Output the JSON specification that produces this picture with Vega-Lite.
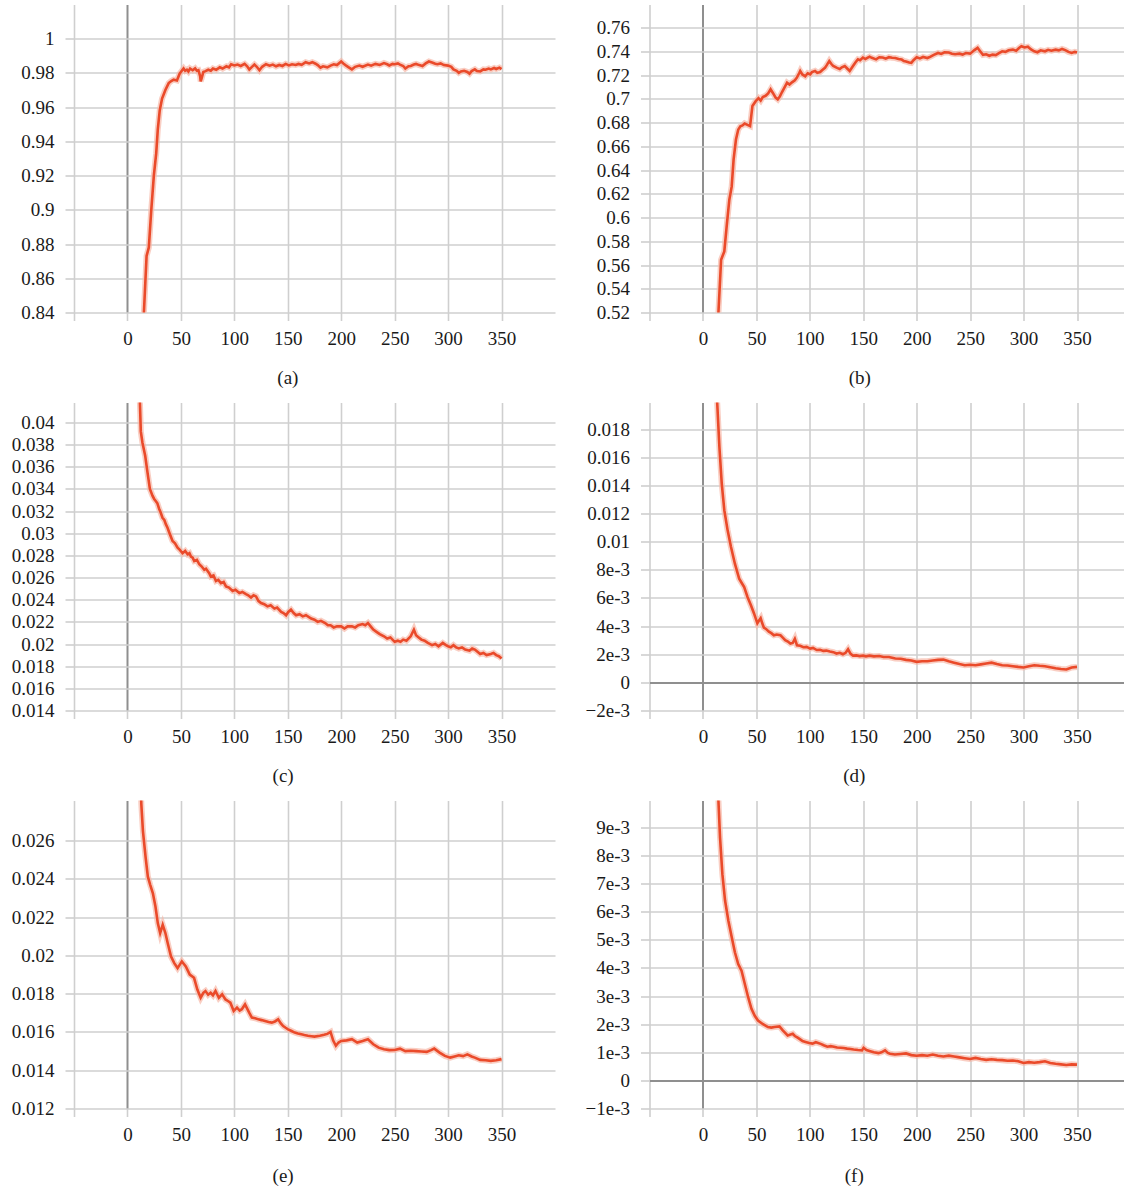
{
  "$schema": "https://vega.github.io/schema/vega-lite/v6.json",
  "autosize": {"type": "pad"},
  "padding": {"left": 11, "top": 4.5, "right": 0, "bottom": 0},
  "background": "white",
  "config": {
    "view": {"stroke": null},
    "font": "Liberation Serif",
    "axis": {"domain": false, "labelFont": "Liberation Serif", "labelFontSize": 19, "labelColor": "#1a1a1a", "labelOverlap": false, "labelFlush": false, "tickColor": "#cfcfcf", "tickWidth": 1.6, "gridWidth": 1.6},
    "axisX": {"tickSize": 8, "labelPadding": 9, "labelFont": "Liberation Serif"},
    "axisY": {"tickSize": 9, "labelPadding": 11, "labelFont": "Liberation Serif"},
    "title": {"font": "Liberation Serif", "fontSize": 19, "fontWeight": "normal", "color": "#1a1a1a"},
    "line": {"clip": true}
  },
  "datasets": {
    "a": [{"x":12,"y":0.80},{"x":15.4,"y":0.84},{"x":17.9,"y":0.873},{"x":20,"y":0.878},{"x":22.2,"y":0.899},{"x":24.7,"y":0.92},{"x":26.9,"y":0.933},{"x":28.4,"y":0.947},{"x":30.2,"y":0.958},{"x":32.4,"y":0.965},{"x":35.5,"y":0.970},{"x":38.6,"y":0.974},{"x":41,"y":0.9752},{"x":43.2,"y":0.976},{"x":46.3,"y":0.9755},{"x":48.8,"y":0.9795},{"x":50,"y":0.9805},{"x":52.5,"y":0.9825},{"x":54,"y":0.9812},{"x":55.6,"y":0.9818},{"x":57,"y":0.9808},{"x":58.6,"y":0.9825},{"x":61,"y":0.9815},{"x":63.3,"y":0.9826},{"x":65,"y":0.9812},{"x":66.4,"y":0.9815},{"x":68,"y":0.978},{"x":68.5,"y":0.975},{"x":69.5,"y":0.977},{"x":71,"y":0.9805},{"x":73,"y":0.981},{"x":75.6,"y":0.9818},{"x":78,"y":0.9812},{"x":80,"y":0.9825},{"x":83,"y":0.9818},{"x":86.4,"y":0.9832},{"x":89,"y":0.9825},{"x":92.6,"y":0.9838},{"x":95,"y":0.9832},{"x":97,"y":0.985},{"x":100,"y":0.9843},{"x":103,"y":0.9848},{"x":106,"y":0.984},{"x":109.6,"y":0.9852},{"x":112,"y":0.9838},{"x":114,"y":0.982},{"x":116,"y":0.9832},{"x":118.8,"y":0.9848},{"x":121,"y":0.9835},{"x":123.5,"y":0.9815},{"x":126,"y":0.9835},{"x":129.6,"y":0.985},{"x":133,"y":0.9842},{"x":136,"y":0.9848},{"x":139,"y":0.9838},{"x":142,"y":0.9846},{"x":145,"y":0.984},{"x":148,"y":0.9852},{"x":151,"y":0.9843},{"x":154,"y":0.985},{"x":157.4,"y":0.9846},{"x":160,"y":0.9852},{"x":163,"y":0.9847},{"x":166.7,"y":0.9862},{"x":170,"y":0.9855},{"x":173,"y":0.9862},{"x":176,"y":0.9853},{"x":178,"y":0.9845},{"x":180.6,"y":0.983},{"x":183,"y":0.9838},{"x":187,"y":0.9832},{"x":190,"y":0.9842},{"x":193,"y":0.985},{"x":196,"y":0.9845},{"x":200,"y":0.9866},{"x":202,"y":0.9855},{"x":205,"y":0.984},{"x":207,"y":0.9832},{"x":210,"y":0.982},{"x":213,"y":0.9835},{"x":217,"y":0.9842},{"x":220,"y":0.9835},{"x":225,"y":0.9848},{"x":228,"y":0.9842},{"x":232,"y":0.9852},{"x":236,"y":0.9846},{"x":240,"y":0.9857},{"x":243,"y":0.985},{"x":245,"y":0.9843},{"x":248,"y":0.9852},{"x":250,"y":0.985},{"x":253,"y":0.9855},{"x":255,"y":0.9848},{"x":258,"y":0.984},{"x":260,"y":0.9825},{"x":263,"y":0.9838},{"x":265,"y":0.984},{"x":268,"y":0.9848},{"x":270,"y":0.9852},{"x":273,"y":0.9845},{"x":276,"y":0.984},{"x":279,"y":0.9855},{"x":282,"y":0.9866},{"x":285,"y":0.986},{"x":288,"y":0.9853},{"x":290,"y":0.985},{"x":293,"y":0.9855},{"x":296,"y":0.9845},{"x":300,"y":0.9842},{"x":303,"y":0.9835},{"x":305,"y":0.982},{"x":308,"y":0.9812},{"x":310,"y":0.980},{"x":312,"y":0.9808},{"x":315,"y":0.9812},{"x":318,"y":0.9805},{"x":320,"y":0.9795},{"x":322,"y":0.981},{"x":325,"y":0.982},{"x":327,"y":0.981},{"x":330,"y":0.9808},{"x":333,"y":0.982},{"x":335,"y":0.9818},{"x":338,"y":0.9825},{"x":340,"y":0.982},{"x":343,"y":0.9828},{"x":345,"y":0.9822},{"x":348,"y":0.983},{"x":350,"y":0.9822}],
    "b": [{"x":13,"y":0.50},{"x":14.5,"y":0.52},{"x":17,"y":0.5644},{"x":20,"y":0.5715},{"x":22.2,"y":0.5926},{"x":24.7,"y":0.615},{"x":26.9,"y":0.626},{"x":28.7,"y":0.649},{"x":30.9,"y":0.6657},{"x":33,"y":0.674},{"x":35,"y":0.6768},{"x":37,"y":0.6775},{"x":39,"y":0.6792},{"x":41.7,"y":0.678},{"x":44.1,"y":0.677},{"x":46.3,"y":0.694},{"x":49.4,"y":0.698},{"x":52,"y":0.7005},{"x":54,"y":0.6985},{"x":56,"y":0.7015},{"x":58.6,"y":0.7025},{"x":61,"y":0.7045},{"x":63.3,"y":0.708},{"x":65,"y":0.7055},{"x":66.4,"y":0.7035},{"x":68,"y":0.701},{"x":70,"y":0.6995},{"x":72,"y":0.702},{"x":74,"y":0.7057},{"x":76,"y":0.709},{"x":78.7,"y":0.7135},{"x":81,"y":0.712},{"x":83.3,"y":0.7138},{"x":86,"y":0.7155},{"x":88,"y":0.718},{"x":90,"y":0.7215},{"x":91,"y":0.7234},{"x":93,"y":0.7205},{"x":95.7,"y":0.719},{"x":98,"y":0.7215},{"x":100.3,"y":0.7206},{"x":102,"y":0.7225},{"x":104.9,"y":0.7234},{"x":107,"y":0.7218},{"x":109.6,"y":0.7225},{"x":112,"y":0.7245},{"x":114.2,"y":0.726},{"x":116,"y":0.7285},{"x":118.2,"y":0.7318},{"x":120,"y":0.7295},{"x":121.9,"y":0.7276},{"x":125,"y":0.7262},{"x":128,"y":0.725},{"x":130,"y":0.7265},{"x":132.7,"y":0.7276},{"x":135,"y":0.7255},{"x":137.3,"y":0.7234},{"x":140.4,"y":0.7276},{"x":143,"y":0.731},{"x":145,"y":0.7332},{"x":147,"y":0.7325},{"x":149.7,"y":0.7347},{"x":152,"y":0.7335},{"x":155.9,"y":0.7355},{"x":158,"y":0.7345},{"x":162,"y":0.7332},{"x":165,"y":0.735},{"x":168.2,"y":0.7347},{"x":171,"y":0.7338},{"x":174,"y":0.735},{"x":177,"y":0.7345},{"x":180,"y":0.7343},{"x":183,"y":0.7335},{"x":186,"y":0.733},{"x":188,"y":0.7318},{"x":190,"y":0.7314},{"x":193,"y":0.7305},{"x":195,"y":0.7302},{"x":197,"y":0.7325},{"x":200,"y":0.735},{"x":203,"y":0.734},{"x":206,"y":0.7352},{"x":210,"y":0.7343},{"x":213,"y":0.7355},{"x":216,"y":0.737},{"x":220,"y":0.7386},{"x":223,"y":0.7378},{"x":226,"y":0.7392},{"x":230,"y":0.739},{"x":233,"y":0.738},{"x":236,"y":0.7375},{"x":240,"y":0.738},{"x":243,"y":0.7372},{"x":246,"y":0.7385},{"x":250,"y":0.738},{"x":252,"y":0.7395},{"x":254,"y":0.741},{"x":257,"y":0.7429},{"x":259,"y":0.7405},{"x":262,"y":0.737},{"x":265,"y":0.7375},{"x":268,"y":0.7362},{"x":271,"y":0.7372},{"x":274,"y":0.7368},{"x":277,"y":0.7385},{"x":280,"y":0.740},{"x":283,"y":0.7395},{"x":286,"y":0.7408},{"x":290,"y":0.7414},{"x":293,"y":0.7405},{"x":296,"y":0.743},{"x":298,"y":0.7443},{"x":301,"y":0.7432},{"x":304,"y":0.7438},{"x":307,"y":0.7415},{"x":310,"y":0.740},{"x":313,"y":0.7392},{"x":316,"y":0.7408},{"x":320,"y":0.740},{"x":323,"y":0.7412},{"x":326,"y":0.7405},{"x":330,"y":0.7414},{"x":333,"y":0.7408},{"x":336,"y":0.742},{"x":339,"y":0.741},{"x":342,"y":0.7395},{"x":345,"y":0.7386},{"x":348,"y":0.7395},{"x":350,"y":0.739}],
    "c": [{"x":10,"y":0.046},{"x":11.6,"y":0.042},{"x":12.5,"y":0.0392},{"x":14,"y":0.0382},{"x":16.6,"y":0.037},{"x":18.75,"y":0.0355},{"x":21,"y":0.034},{"x":23.4,"y":0.0334},{"x":25,"y":0.0331},{"x":26.6,"y":0.0329},{"x":28,"y":0.0327},{"x":29.7,"y":0.0322},{"x":31,"y":0.0319},{"x":32.8,"y":0.0314},{"x":34.5,"y":0.0312},{"x":36,"y":0.0308},{"x":37.5,"y":0.0305},{"x":39,"y":0.0301},{"x":42.2,"y":0.0293},{"x":44.5,"y":0.0291},{"x":46.9,"y":0.0287},{"x":49,"y":0.0285},{"x":51.6,"y":0.0282},{"x":54,"y":0.0284},{"x":56.3,"y":0.0281},{"x":58,"y":0.0282},{"x":59.4,"y":0.0279},{"x":61,"y":0.0278},{"x":62.5,"y":0.0275},{"x":65,"y":0.0276},{"x":67.2,"y":0.0272},{"x":69.5,"y":0.0270},{"x":71.9,"y":0.0267},{"x":73.5,"y":0.0268},{"x":75,"y":0.0266},{"x":76.5,"y":0.0264},{"x":78,"y":0.0261},{"x":80.5,"y":0.0262},{"x":82.8,"y":0.0257},{"x":85,"y":0.0258},{"x":87.5,"y":0.0255},{"x":90,"y":0.0256},{"x":92.2,"y":0.0252},{"x":95,"y":0.0251},{"x":98.4,"y":0.0248},{"x":101,"y":0.0249},{"x":104.7,"y":0.0246},{"x":107.5,"y":0.0247},{"x":110.9,"y":0.0245},{"x":113,"y":0.0244},{"x":115.6,"y":0.0242},{"x":118,"y":0.0244},{"x":120.3,"y":0.0243},{"x":122.5,"y":0.0239},{"x":125,"y":0.0237},{"x":128,"y":0.0236},{"x":131,"y":0.0234},{"x":134,"y":0.0235},{"x":137.5,"y":0.0232},{"x":140,"y":0.0233},{"x":143.8,"y":0.0229},{"x":146,"y":0.0228},{"x":148.4,"y":0.0226},{"x":150.5,"y":0.0229},{"x":153,"y":0.0231},{"x":155.5,"y":0.0228},{"x":157.8,"y":0.0226},{"x":161,"y":0.0227},{"x":164,"y":0.0225},{"x":167,"y":0.0226},{"x":171.9,"y":0.0223},{"x":175,"y":0.0222},{"x":178,"y":0.022},{"x":181,"y":0.0221},{"x":185,"y":0.0219},{"x":187.5,"y":0.0217},{"x":190,"y":0.0217},{"x":193,"y":0.0215},{"x":196,"y":0.0216},{"x":200,"y":0.0216},{"x":203,"y":0.0214},{"x":206,"y":0.0216},{"x":210,"y":0.0216},{"x":213,"y":0.0215},{"x":216,"y":0.0217},{"x":220,"y":0.0218},{"x":222.5,"y":0.0217},{"x":225,"y":0.0219},{"x":227.5,"y":0.0216},{"x":230,"y":0.0213},{"x":233,"y":0.0211},{"x":236,"y":0.0209},{"x":240,"y":0.0207},{"x":243,"y":0.0205},{"x":246,"y":0.0206},{"x":250,"y":0.0202},{"x":253,"y":0.0203},{"x":255.5,"y":0.0202},{"x":258,"y":0.0204},{"x":261,"y":0.0203},{"x":265,"y":0.0207},{"x":268,"y":0.0213},{"x":270,"y":0.0208},{"x":272.5,"y":0.0206},{"x":275,"y":0.0204},{"x":278,"y":0.0203},{"x":281,"y":0.0201},{"x":285,"y":0.0199},{"x":288,"y":0.0200},{"x":291,"y":0.0198},{"x":295,"y":0.0201},{"x":298,"y":0.0199},{"x":300,"y":0.0198},{"x":302.5,"y":0.0197},{"x":305,"y":0.0199},{"x":307.5,"y":0.0197},{"x":310,"y":0.0196},{"x":313,"y":0.0197},{"x":316,"y":0.0195},{"x":320,"y":0.0194},{"x":322.5,"y":0.0196},{"x":325,"y":0.0195},{"x":327.5,"y":0.0193},{"x":330,"y":0.0191},{"x":333,"y":0.0192},{"x":336,"y":0.0190},{"x":340,"y":0.0191},{"x":342.5,"y":0.0192},{"x":345,"y":0.0190},{"x":347.5,"y":0.0189},{"x":350,"y":0.0187}],
    "d": [{"x":11,"y":0.024},{"x":13.3,"y":0.01995},{"x":15.4,"y":0.01674},{"x":17.6,"y":0.01413},{"x":20,"y":0.01224},{"x":23.1,"y":0.01081},{"x":26.2,"y":0.00964},{"x":29.9,"y":0.00844},{"x":33.9,"y":0.00737},{"x":36,"y":0.0071},{"x":38.6,"y":0.00678},{"x":41.7,"y":0.00607},{"x":44.8,"y":0.0055},{"x":47.8,"y":0.0049},{"x":50.9,"y":0.0042},{"x":52.5,"y":0.0044},{"x":54,"y":0.00456},{"x":55.5,"y":0.0042},{"x":57,"y":0.0039},{"x":59,"y":0.0038},{"x":61.7,"y":0.0036},{"x":64,"y":0.0035},{"x":66.4,"y":0.00335},{"x":69,"y":0.0034},{"x":72.5,"y":0.00335},{"x":74.5,"y":0.0032},{"x":77,"y":0.0030},{"x":79.5,"y":0.0029},{"x":81.8,"y":0.00276},{"x":84,"y":0.0028},{"x":86,"y":0.0031},{"x":88,"y":0.00264},{"x":91,"y":0.0026},{"x":94,"y":0.0025},{"x":97,"y":0.00252},{"x":100.3,"y":0.0024},{"x":103,"y":0.00245},{"x":106.5,"y":0.0023},{"x":109.5,"y":0.00232},{"x":112.7,"y":0.00224},{"x":115.5,"y":0.00226},{"x":118.8,"y":0.0022},{"x":122,"y":0.00215},{"x":125,"y":0.00205},{"x":128,"y":0.0021},{"x":131,"y":0.002},{"x":133.5,"y":0.0021},{"x":135.8,"y":0.00235},{"x":138,"y":0.00205},{"x":140.4,"y":0.0019},{"x":143.5,"y":0.00192},{"x":146.6,"y":0.00187},{"x":150,"y":0.0019},{"x":152.5,"y":0.00185},{"x":155.9,"y":0.0019},{"x":160,"y":0.00185},{"x":165,"y":0.00187},{"x":169,"y":0.0018},{"x":174,"y":0.0018},{"x":177,"y":0.00175},{"x":180,"y":0.0017},{"x":185,"y":0.00168},{"x":190,"y":0.0016},{"x":195,"y":0.00155},{"x":200,"y":0.00146},{"x":205,"y":0.0015},{"x":210,"y":0.0015},{"x":215,"y":0.00155},{"x":220,"y":0.0016},{"x":225,"y":0.00162},{"x":230,"y":0.0015},{"x":235,"y":0.0014},{"x":240,"y":0.0013},{"x":245,"y":0.00122},{"x":250,"y":0.00125},{"x":255,"y":0.00122},{"x":260,"y":0.00128},{"x":265,"y":0.00134},{"x":270,"y":0.0014},{"x":275,"y":0.0013},{"x":280,"y":0.00122},{"x":285,"y":0.0012},{"x":290,"y":0.00115},{"x":295,"y":0.0011},{"x":300,"y":0.00106},{"x":305,"y":0.00115},{"x":310,"y":0.00122},{"x":315,"y":0.00118},{"x":320,"y":0.00115},{"x":325,"y":0.00108},{"x":330,"y":0.001},{"x":335,"y":0.00095},{"x":340,"y":0.00092},{"x":345,"y":0.00106},{"x":350,"y":0.0011}],
    "e": [{"x":11,"y":0.031},{"x":13,"y":0.0279},{"x":14.5,"y":0.0265},{"x":17,"y":0.02513},{"x":19.1,"y":0.02412},{"x":21.3,"y":0.02369},{"x":23.8,"y":0.02325},{"x":26.2,"y":0.02256},{"x":28.4,"y":0.02169},{"x":30.6,"y":0.02117},{"x":33,"y":0.0216},{"x":35.5,"y":0.02117},{"x":37.7,"y":0.02064},{"x":40.7,"y":0.01995},{"x":43.8,"y":0.0196},{"x":46.9,"y":0.01934},{"x":50.9,"y":0.01969},{"x":54.6,"y":0.01943},{"x":58.3,"y":0.019},{"x":62.3,"y":0.01883},{"x":65.4,"y":0.01822},{"x":68.5,"y":0.01779},{"x":71,"y":0.01805},{"x":73,"y":0.01814},{"x":75.5,"y":0.01795},{"x":77.8,"y":0.01805},{"x":80,"y":0.01792},{"x":82.4,"y":0.01814},{"x":85.5,"y":0.01779},{"x":88.6,"y":0.01797},{"x":91.7,"y":0.0177},{"x":94,"y":0.01762},{"x":96.3,"y":0.01753},{"x":99.4,"y":0.0171},{"x":102.5,"y":0.01727},{"x":105,"y":0.01712},{"x":107,"y":0.01719},{"x":110,"y":0.01744},{"x":113.9,"y":0.01701},{"x":116.4,"y":0.01675},{"x":119.5,"y":0.01672},{"x":122.5,"y":0.01666},{"x":125.5,"y":0.01662},{"x":128.7,"y":0.01657},{"x":132,"y":0.01652},{"x":135,"y":0.01649},{"x":138,"y":0.01655},{"x":141,"y":0.01666},{"x":143.5,"y":0.01645},{"x":145.7,"y":0.01631},{"x":148,"y":0.01622},{"x":150.3,"y":0.01614},{"x":153.5,"y":0.01605},{"x":156.5,"y":0.01597},{"x":159.5,"y":0.01592},{"x":162.7,"y":0.01588},{"x":165.5,"y":0.01584},{"x":168.8,"y":0.0158},{"x":172,"y":0.01578},{"x":175,"y":0.01576},{"x":180,"y":0.0158},{"x":184,"y":0.01585},{"x":187,"y":0.0159},{"x":190,"y":0.016},{"x":192.5,"y":0.01555},{"x":195,"y":0.01528},{"x":197.5,"y":0.01545},{"x":200,"y":0.01553},{"x":205,"y":0.01556},{"x":210,"y":0.01562},{"x":215,"y":0.01545},{"x":220,"y":0.01553},{"x":225,"y":0.01562},{"x":230,"y":0.01536},{"x":235,"y":0.01518},{"x":240,"y":0.0151},{"x":245,"y":0.01505},{"x":250,"y":0.01506},{"x":255,"y":0.01513},{"x":260,"y":0.015},{"x":265,"y":0.01502},{"x":270,"y":0.015},{"x":275,"y":0.01498},{"x":280,"y":0.01496},{"x":284,"y":0.01505},{"x":287,"y":0.01513},{"x":292,"y":0.01492},{"x":297,"y":0.01475},{"x":302,"y":0.01466},{"x":306,"y":0.01472},{"x":310,"y":0.01478},{"x":314,"y":0.01474},{"x":318,"y":0.01483},{"x":322,"y":0.01472},{"x":325,"y":0.01466},{"x":330,"y":0.01454},{"x":335,"y":0.01452},{"x":340,"y":0.01449},{"x":345,"y":0.01452},{"x":350,"y":0.01458}],
    "f": [{"x":12,"y":0.0125},{"x":14.5,"y":0.00995},{"x":16,"y":0.00864},{"x":18.2,"y":0.00734},{"x":20.7,"y":0.0064},{"x":23.8,"y":0.00568},{"x":26.9,"y":0.0051},{"x":29.9,"y":0.00456},{"x":33,"y":0.00414},{"x":36.1,"y":0.0039},{"x":39.2,"y":0.00343},{"x":42.3,"y":0.00296},{"x":45.4,"y":0.00255},{"x":48.5,"y":0.0023},{"x":51.5,"y":0.00213},{"x":56.2,"y":0.002},{"x":60.8,"y":0.0019},{"x":64,"y":0.00188},{"x":67,"y":0.0019},{"x":71.6,"y":0.00192},{"x":74.7,"y":0.00178},{"x":79.3,"y":0.0016},{"x":84,"y":0.00166},{"x":86,"y":0.00158},{"x":88.6,"y":0.00152},{"x":91,"y":0.00146},{"x":93.2,"y":0.0014},{"x":96,"y":0.00137},{"x":99.4,"y":0.00133},{"x":102.5,"y":0.00131},{"x":105.6,"y":0.00136},{"x":110.2,"y":0.0013},{"x":113,"y":0.00125},{"x":116.4,"y":0.0012},{"x":119.5,"y":0.00122},{"x":122.5,"y":0.0012},{"x":125.5,"y":0.00117},{"x":128.7,"y":0.00116},{"x":131.5,"y":0.00115},{"x":134.9,"y":0.00113},{"x":138,"y":0.00112},{"x":141,"y":0.0011},{"x":145,"y":0.00108},{"x":148.8,"y":0.00107},{"x":150.3,"y":0.00116},{"x":153,"y":0.00108},{"x":156.5,"y":0.00104},{"x":160,"y":0.001},{"x":164.2,"y":0.00097},{"x":167,"y":0.001},{"x":170.4,"y":0.00107},{"x":173,"y":0.00098},{"x":175,"y":0.00095},{"x":179.6,"y":0.00092},{"x":185,"y":0.00094},{"x":190,"y":0.00096},{"x":195,"y":0.0009},{"x":200,"y":0.00088},{"x":205,"y":0.0009},{"x":210,"y":0.00088},{"x":215,"y":0.00092},{"x":220,"y":0.00088},{"x":225,"y":0.00085},{"x":230,"y":0.00088},{"x":235,"y":0.00085},{"x":240,"y":0.00082},{"x":245,"y":0.00079},{"x":250,"y":0.00076},{"x":255,"y":0.0008},{"x":260,"y":0.00076},{"x":265,"y":0.00073},{"x":270,"y":0.00075},{"x":275,"y":0.00073},{"x":280,"y":0.00072},{"x":285,"y":0.0007},{"x":290,"y":0.00071},{"x":295,"y":0.00068},{"x":300,"y":0.00062},{"x":305,"y":0.00065},{"x":310,"y":0.00063},{"x":315,"y":0.00065},{"x":320,"y":0.00068},{"x":325,"y":0.00062},{"x":330,"y":0.00059},{"x":335,"y":0.00057},{"x":340,"y":0.00055},{"x":345,"y":0.00057},{"x":350,"y":0.00056}]
  },
  "columns": 2,
  "bounds": "flush",
  "spacing": {"row": 90, "column": 94.5},
  "concat": [
    {
      "width": 481, "height": 308,
      "data": {"name": "a"},
      "title": {"text": "(a)", "orient": "bottom", "frame": "bounds", "anchor": "middle", "offset": 20, "font": "Liberation Serif"},
      "encoding": {
        "x": {"field": "x", "type": "quantitative", "scale": {"domain": [-50, 400], "nice": false, "zero": false}, "axis": {"title": null, "labelFont": "Liberation Serif", "values": [-50,0,50,100,150,200,250,300,350], "labelExpr": "datum.value < 0 ? '' : datum.label", "gridColor": {"condition": {"test": "datum.value === 0", "value": "#8f8f8f"}, "value": "#cfcfcf"}, "gridWidth": {"condition": {"test": "datum.value === 0", "value": 2}, "value": 1.6}}},
        "y": {"field": "y", "type": "quantitative", "scale": {"domain": [0.84, 1.0199], "nice": false, "zero": false}, "axis": {"title": null, "labelFont": "Liberation Serif", "values": [0.84,0.86,0.88,0.9,0.92,0.94,0.96,0.98,1], "format": "~g", "gridColor": {"condition": {"test": "datum.value === 0", "value": "#8f8f8f"}, "value": "#cfcfcf"}}}
      },
      "layer": [
        {"mark": {"type": "line", "color": "#f6b9a9", "strokeWidth": 6, "opacity": 0.7, "clip": true}},
        {"mark": {"type": "line", "color": "#ea4a2a", "strokeWidth": 2.6, "clip": true}}
      ]
    },
    {
      "width": 474, "height": 308,
      "data": {"name": "b"},
      "title": {"text": "(b)", "orient": "bottom", "frame": "bounds", "anchor": "middle", "offset": 20, "font": "Liberation Serif"},
      "encoding": {
        "x": {"field": "x", "type": "quantitative", "scale": {"domain": [-50, 393.5], "nice": false, "zero": false}, "axis": {"title": null, "labelFont": "Liberation Serif", "values": [-50,0,50,100,150,200,250,300,350], "labelExpr": "datum.value < 0 ? '' : datum.label", "gridColor": {"condition": {"test": "datum.value === 0", "value": "#8f8f8f"}, "value": "#cfcfcf"}, "gridWidth": {"condition": {"test": "datum.value === 0", "value": 2}, "value": 1.6}}},
        "y": {"field": "y", "type": "quantitative", "scale": {"domain": [0.52, 0.7794], "nice": false, "zero": false}, "axis": {"title": null, "labelFont": "Liberation Serif", "values": [0.52,0.54,0.56,0.58,0.6,0.62,0.64,0.66,0.68,0.7,0.72,0.74,0.76], "format": "~g", "gridColor": {"condition": {"test": "datum.value === 0", "value": "#8f8f8f"}, "value": "#cfcfcf"}}}
      },
      "layer": [
        {"mark": {"type": "line", "color": "#f6b9a9", "strokeWidth": 6, "opacity": 0.7, "clip": true}},
        {"mark": {"type": "line", "color": "#ea4a2a", "strokeWidth": 2.6, "clip": true}}
      ]
    },
    {
      "width": 481, "height": 308,
      "data": {"name": "c"},
      "title": {"text": "(c)", "orient": "bottom", "frame": "bounds", "anchor": "middle", "offset": 20, "font": "Liberation Serif"},
      "encoding": {
        "x": {"field": "x", "type": "quantitative", "scale": {"domain": [-50, 400], "nice": false, "zero": false}, "axis": {"title": null, "labelFont": "Liberation Serif", "values": [-50,0,50,100,150,200,250,300,350], "labelExpr": "datum.value < 0 ? '' : datum.label", "gridColor": {"condition": {"test": "datum.value === 0", "value": "#8f8f8f"}, "value": "#cfcfcf"}, "gridWidth": {"condition": {"test": "datum.value === 0", "value": 2}, "value": 1.6}}},
        "y": {"field": "y", "type": "quantitative", "scale": {"domain": [0.014, 0.04181], "nice": false, "zero": false}, "axis": {"title": null, "labelFont": "Liberation Serif", "values": [0.014,0.016,0.018,0.02,0.022,0.024,0.026,0.028,0.03,0.032,0.034,0.036,0.038,0.04], "format": "~g", "gridColor": {"condition": {"test": "datum.value === 0", "value": "#8f8f8f"}, "value": "#cfcfcf"}}}
      },
      "layer": [
        {"mark": {"type": "line", "color": "#f6b9a9", "strokeWidth": 6, "opacity": 0.7, "clip": true}},
        {"mark": {"type": "line", "color": "#ea4a2a", "strokeWidth": 2.6, "clip": true}}
      ]
    },
    {
      "width": 474, "height": 308,
      "data": {"name": "d"},
      "title": {"text": "(d)", "orient": "bottom", "frame": "bounds", "anchor": "middle", "offset": 20, "font": "Liberation Serif"},
      "encoding": {
        "x": {"field": "x", "type": "quantitative", "scale": {"domain": [-50, 393.5], "nice": false, "zero": false}, "axis": {"title": null, "labelFont": "Liberation Serif", "values": [-50,0,50,100,150,200,250,300,350], "labelExpr": "datum.value < 0 ? '' : datum.label", "gridColor": {"condition": {"test": "datum.value === 0", "value": "#8f8f8f"}, "value": "#cfcfcf"}, "gridWidth": {"condition": {"test": "datum.value === 0", "value": 2}, "value": 1.6}}},
        "y": {"field": "y", "type": "quantitative", "scale": {"domain": [-0.002, 0.0199], "nice": false, "zero": false}, "axis": {"title": null, "labelFont": "Liberation Serif", "values": [-0.002,0,0.002,0.004,0.006,0.008,0.01,0.012,0.014,0.016,0.018], "labelExpr": "datum.value === 0 ? '0' : (abs(datum.value) < 0.00995 ? format(round(datum.value * 1000), 'd') + 'e-3' : format(datum.value, '~g'))", "gridColor": {"condition": {"test": "datum.value === 0", "value": "#8f8f8f"}, "value": "#cfcfcf"}, "gridWidth": {"condition": {"test": "datum.value === 0", "value": 2}, "value": 1.6}}}
      },
      "layer": [
        {"mark": {"type": "line", "color": "#f6b9a9", "strokeWidth": 6, "opacity": 0.7, "clip": true}},
        {"mark": {"type": "line", "color": "#ea4a2a", "strokeWidth": 2.6, "clip": true}}
      ]
    },
    {
      "width": 481, "height": 308,
      "data": {"name": "e"},
      "title": {"text": "(e)", "orient": "bottom", "frame": "bounds", "anchor": "middle", "offset": 22, "font": "Liberation Serif"},
      "encoding": {
        "x": {"field": "x", "type": "quantitative", "scale": {"domain": [-50, 400], "nice": false, "zero": false}, "axis": {"title": null, "labelFont": "Liberation Serif", "values": [-50,0,50,100,150,200,250,300,350], "labelExpr": "datum.value < 0 ? '' : datum.label", "gridColor": {"condition": {"test": "datum.value === 0", "value": "#8f8f8f"}, "value": "#cfcfcf"}, "gridWidth": {"condition": {"test": "datum.value === 0", "value": 2}, "value": 1.6}}},
        "y": {"field": "y", "type": "quantitative", "scale": {"domain": [0.012, 0.0281], "nice": false, "zero": false}, "axis": {"title": null, "labelFont": "Liberation Serif", "values": [0.012,0.014,0.016,0.018,0.02,0.022,0.024,0.026], "format": "~g", "gridColor": {"condition": {"test": "datum.value === 0", "value": "#8f8f8f"}, "value": "#cfcfcf"}}}
      },
      "layer": [
        {"mark": {"type": "line", "color": "#f6b9a9", "strokeWidth": 6, "opacity": 0.7, "clip": true}},
        {"mark": {"type": "line", "color": "#ea4a2a", "strokeWidth": 2.6, "clip": true}}
      ]
    },
    {
      "width": 474, "height": 308,
      "data": {"name": "f"},
      "title": {"text": "(f)", "orient": "bottom", "frame": "bounds", "anchor": "middle", "offset": 22, "font": "Liberation Serif"},
      "encoding": {
        "x": {"field": "x", "type": "quantitative", "scale": {"domain": [-50, 393.5], "nice": false, "zero": false}, "axis": {"title": null, "labelFont": "Liberation Serif", "values": [-50,0,50,100,150,200,250,300,350], "labelExpr": "datum.value < 0 ? '' : datum.label", "gridColor": {"condition": {"test": "datum.value === 0", "value": "#8f8f8f"}, "value": "#cfcfcf"}, "gridWidth": {"condition": {"test": "datum.value === 0", "value": 2}, "value": 1.6}}},
        "y": {"field": "y", "type": "quantitative", "scale": {"domain": [-0.001, 0.00996], "nice": false, "zero": false}, "axis": {"title": null, "labelFont": "Liberation Serif", "values": [-0.001,0,0.001,0.002,0.003,0.004,0.005,0.006,0.007,0.008,0.009], "labelExpr": "datum.value === 0 ? '0' : (abs(datum.value) < 0.00995 ? format(round(datum.value * 1000), 'd') + 'e-3' : format(datum.value, '~g'))", "gridColor": {"condition": {"test": "datum.value === 0", "value": "#8f8f8f"}, "value": "#cfcfcf"}, "gridWidth": {"condition": {"test": "datum.value === 0", "value": 2}, "value": 1.6}}}
      },
      "layer": [
        {"mark": {"type": "line", "color": "#f6b9a9", "strokeWidth": 6, "opacity": 0.7, "clip": true}},
        {"mark": {"type": "line", "color": "#ea4a2a", "strokeWidth": 2.6, "clip": true}}
      ]
    }
  ]
}
